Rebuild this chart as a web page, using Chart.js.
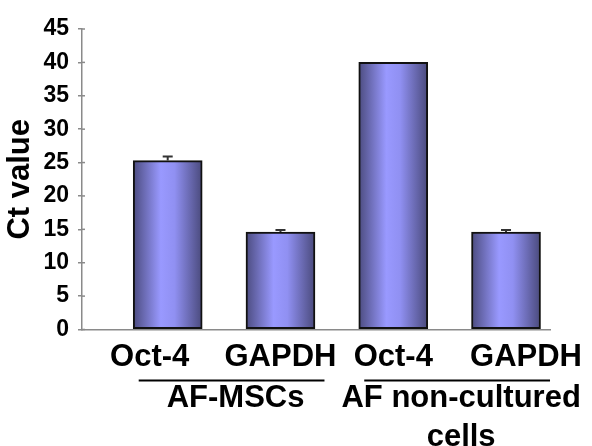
<!DOCTYPE html>
<html><head><meta charset="utf-8">
<script src="https://cdn.jsdelivr.net/npm/chart.js@4"></script>
<style>html,body{margin:0;padding:0;background:#fff}canvas{display:block}</style>
</head><body>
<canvas id="c" width="592" height="446"></canvas>
<script>
// ---- data ----
const categories = ['Oct-4', 'GAPDH', 'Oct-4', 'GAPDH'];
const ctValues = [25.3, 14.6, 40.0, 14.6];
const ctErrors = [0.6, 0.3, 0, 0.3];
const groupLabels = [['AF-MSCs'], ['AF non-cultured', 'cells']];
const groupMembers = [[0, 1], [2, 3]];
const yAxisTitle = 'Ct value';

// ---- style / layout constants ----
const FAM = "'Liberation Sans', Arial, Helvetica, sans-serif";
const labelShift = [-18, 0, 0, 20];

function barGradient(context) {
  const chart = context.chart;
  const xs = chart.scales && chart.scales.x;
  if (!chart.chartArea || !xs || !context.parsed) return '#8c8cf0';
  const cx = xs.getPixelForValue(context.parsed.x);
  const half = 34.5;
  const g = chart.ctx.createLinearGradient(cx - half, 0, cx + half, 0);
  g.addColorStop(0, '#4c4c80');
  g.addColorStop(0.4, '#9999ff');
  g.addColorStop(0.6, '#9090f2');
  g.addColorStop(1, '#4a4a7c');
  return g;
}

const errorBarPlugin = {
  id: 'errorBars',
  afterDatasetsDraw(chart) {
    const xs = chart.scales.x, ys = chart.scales.y, ctx = chart.ctx;
    ctx.save();
    ctx.strokeStyle = '#333';
    ctx.lineWidth = 2;
    ctValues.forEach((v, i) => {
      const e = ctErrors[i];
      if (!e) return;
      const x = xs.getPixelForValue(i + 1);
      const yTop = ys.getPixelForValue(v + e);
      const yBar = ys.getPixelForValue(v);
      ctx.beginPath();
      ctx.moveTo(x, yBar); ctx.lineTo(x, yTop);
      ctx.moveTo(x - 5, yTop); ctx.lineTo(x + 5, yTop);
      ctx.stroke();
    });
    ctx.restore();
  }
};

const tickCrossPlugin = {
  id: 'tickCross',
  afterDraw(chart) {
    const ys = chart.scales.y, ctx = chart.ctx, left = chart.chartArea.left;
    ctx.save();
    ctx.strokeStyle = '#8a8a8a';
    ctx.lineWidth = 1.5;
    ys.ticks.forEach(t => {
      const y = ys.getPixelForValue(t.value);
      ctx.beginPath();
      ctx.moveTo(left, y); ctx.lineTo(left + 3, y);
      ctx.stroke();
    });
    ctx.restore();
  }
};

const labelPlugin = {
  id: 'catLabels',
  afterDraw(chart) {
    const xs = chart.scales.x, ctx = chart.ctx;
    ctx.save();
    ctx.fillStyle = '#000';
    ctx.font = 'bold 31px ' + FAM;
    ctx.textAlign = 'center';
    ctx.textBaseline = 'alphabetic';
    categories.forEach((c, i) => {
      ctx.fillText(c, xs.getPixelForValue(i + 1) + labelShift[i], 366);
    });
    groupMembers.forEach((m, gi) => {
      const x0 = xs.getPixelForValue(m[0] + 1) - 29;
      const x1 = xs.getPixelForValue(m[m.length - 1] + 1) + 44;
      ctx.strokeStyle = '#000';
      ctx.lineWidth = 2;
      ctx.beginPath();
      ctx.moveTo(x0, 380.5); ctx.lineTo(x1, 380.5);
      ctx.stroke();
      const cx = (x0 + x1) / 2 + 4;
      groupLabels[gi].forEach((t, li) => {
        ctx.fillText(t, cx, 407 + li * 38.5);
      });
    });
    ctx.restore();
  }
};

new Chart(document.getElementById('c'), {
  type: 'bar',
  data: {
    datasets: [{
      data: ctValues.map((v, i) => ({ x: i + 1, y: v })),
      backgroundColor: barGradient,
      borderColor: '#111',
      borderWidth: 2,
      borderSkipped: false,
      barThickness: 69
    }]
  },
  options: {
    responsive: false,
    animation: false,
    devicePixelRatio: 1,
    layout: { padding: { top: 29, right: 42, bottom: 0, left: 0 } },
    plugins: { legend: { display: false }, tooltip: { enabled: false } },
    scales: {
      x: {
        type: 'linear',
        offset: false,
        min: 0.24,
        max: 4.39,
        grid: { display: false },
        border: { display: true, color: '#8a8a8a', width: 1.5 },
        ticks: { display: false },
        afterFit(s) { s.height = 116.5; }
      },
      y: {
        min: 0,
        max: 45,
        ticks: { stepSize: 5, color: '#000', padding: 9, font: { size: 23, weight: 'bold', family: FAM } },
        grid: { drawOnChartArea: false, drawTicks: true, tickLength: 4, color: '#8a8a8a', lineWidth: 1.5 },
        border: { color: '#8a8a8a', width: 1.5 },
        title: { display: true, text: yAxisTitle, color: '#000', padding: { top: 2, bottom: 0 }, font: { size: 31, weight: 'bold', family: FAM } },
        afterFit(s) { s.width = 82; }
      }
    }
  },
  plugins: [errorBarPlugin, tickCrossPlugin, labelPlugin]
});
</script>
</body></html>
